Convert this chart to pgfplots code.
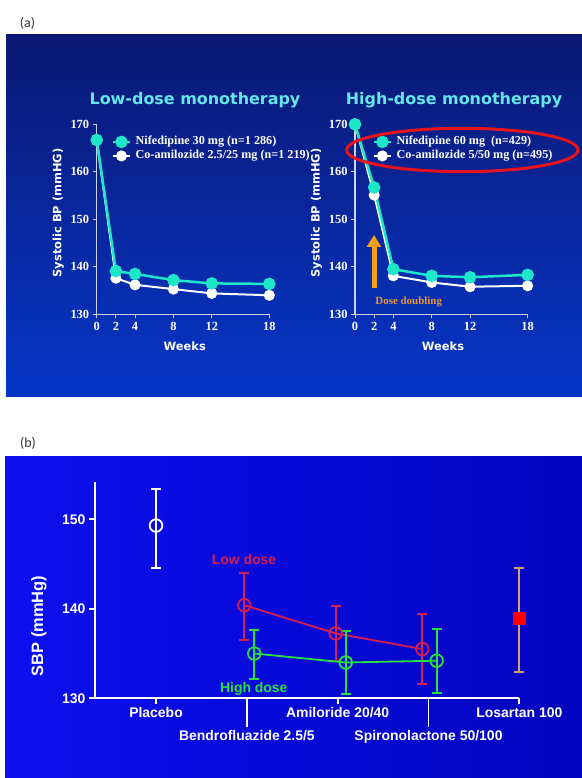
\documentclass[border=0pt]{standalone}
\usepackage{fontspec}
\setmainfont{Liberation Sans}
\newfontfamily\dvs{DejaVu Sans}
\newfontfamily\lser{Liberation Serif}
\newfontfamily\carl{Carlito}
\usepackage{pgfplots}
\usepackage{pgfplotstable}
\pgfplotsset{compat=1.18}
\usetikzlibrary{arrows.meta}

\definecolor{bgAtop}{RGB}{11,24,115}
\definecolor{bgAbot}{RGB}{6,54,200}
\definecolor{bgBl}{RGB}{12,16,240}
\definecolor{bgBr}{RGB}{3,3,190}
\definecolor{bgBmid}{RGB}{10,12,228}
\definecolor{titlecyan}{RGB}{100,230,235}
\definecolor{nif}{RGB}{30,230,200}
\definecolor{axcol}{RGB}{205,210,230}
\definecolor{ellred}{RGB}{230,20,30}
\definecolor{arrorange}{RGB}{245,160,20}
\definecolor{doseorange}{RGB}{232,150,50}
\definecolor{lowred}{RGB}{215,30,80}
\definecolor{highgreen}{RGB}{40,225,60}
\definecolor{tanbar}{RGB}{210,160,110}
\definecolor{labgray}{RGB}{50,50,50}

\pgfplotstableread{
w y
0 166.7
2 139.1
4 138.5
8 137.2
12 136.5
18 136.4
}\nifA
\pgfplotstableread{
w y
0 166.7
2 137.6
4 136.2
8 135.3
12 134.4
18 134.0
}\coA
\pgfplotstableread{
w y
0 170.0
2 156.7
4 139.5
8 138.1
12 137.8
18 138.3
}\nifB
\pgfplotstableread{
w y
0 170.0
2 155.1
4 138.1
8 136.7
12 135.8
18 136.0
}\coB
\pgfplotstableread{
x y ep em
0 149.3 4.05 4.7
}\placebo
\pgfplotstableread{
x y ep em
0.972 140.4 3.6 3.9
1.978 137.25 3.05 3.05
2.932 135.5 3.9 3.9
}\lowB
\pgfplotstableread{
x y ep em
1.082 135.0 2.6 2.85
2.089 134.0 3.5 3.5
3.09 134.2 3.5 3.6
}\highB
\pgfplotstableread{
x y ep em
4 138.9 5.7 6.0
}\losartan

\pgfplotsset{
  panelA/.style={
    scale only axis, width=172.6bp, height=190bp,
    xmin=0, xmax=18, ymin=130, ymax=170,
    axis lines=left, axis line style={-, draw=axcol, line width=1.3bp},
    xtick={0,2,4,8,12,18}, ytick={130,140,...,170},
    tick align=outside, major tick length=4bp,
    tick style={draw=axcol, line width=1bp},
    /pgf/number format/assume math mode=true,
    ticklabel style={font=\lser\bfseries\fontsize{12.5}{14}\selectfont, text=white},
    xlabel={Weeks}, ylabel={Systolic BP (mmHG)},
    label style={font=\dvs\bfseries\fontsize{11.5}{13}\selectfont, text=white},
    xlabel style={at={(axis description cs:0.51,-0.1705)}, anchor=center},
    ylabel style={at={(axis description cs:-0.2225,0.533)}, anchor=center},
    clip=false,
    reverse legend,
    legend cell align=left,
    legend image code/.code={\draw[mark repeat=2,mark phase=2,##1] plot coordinates {(0bp,0bp) (8.5bp,0bp) (17bp,0bp)};},
  },
  legA/.style={
    legend style={at={(axis description cs:#1,0.945)}, anchor=north west, draw=none, fill=none,
      font=\lser\bfseries\fontsize{12.2}{14}\selectfont, text=white, inner sep=0pt,
      nodes={inner sep=1.5bp, text height=8bp, text depth=3bp},
      /tikz/every odd column/.append style={column sep=3bp}},
  },
}

\begin{document}
\begin{tikzpicture}[x=1bp,y=1bp]
\useasboundingbox (0,0) rectangle (582,778);
% panel backgrounds
\shade[top color=bgAtop, bottom color=bgAbot] (6,381) rectangle (582,743);
\shade[left color=bgBl, right color=bgBr] (5,0) rectangle (582,321);
\node[font=\carl\fontsize{14}{16}\selectfont, text=labgray] at (27.5,755) {(a)};
\node[font=\carl\fontsize{14}{16}\selectfont, text=labgray] at (28,335) {(b)};

% titles
\node[font=\dvs\bfseries\fontsize{16}{18}\selectfont, text=titlecyan] at (195,678) {Low-dose monotherapy};
\node[font=\dvs\bfseries\fontsize{16}{18}\selectfont, text=titlecyan] at (454,678) {High-dose monotherapy};

% left panel (a)
\begin{axis}[panelA, legA=0.0857, at={(96.7bp,463.7bp)}, anchor=south west]
\addplot[white, line width=2bp, mark=*, mark size=4.5bp, mark options={fill=white, draw=white}] table[x=w,y=y]{\coA};
\addlegendentry{Co-amilozide 2.5/25 mg (n=1 219)}
\addplot[nif, line width=2.5bp, mark=*, mark size=5bp, mark options={fill=nif, draw=nif}] table[x=w,y=y]{\nifA};
\addlegendentry{Nifedipine 30 mg (n=1 286)}
\end{axis}

% right panel (a)
\begin{axis}[panelA, legA=0.101, at={(355bp,463.7bp)}, anchor=south west]
\addplot[white, line width=2bp, mark=*, mark size=4.5bp, mark options={fill=white, draw=white}] table[x=w,y=y]{\coB};
\addlegendentry{Co-amilozide 5/50 mg (n=495)}
\addplot[nif, line width=2.5bp, mark=*, mark size=5bp, mark options={fill=nif, draw=nif}] table[x=w,y=y]{\nifB};
\addlegendentry{Nifedipine 60 mg~~(n=429)}
\end{axis}

\draw[ellred, line width=3bp] (462.3,628) ellipse [x radius=115.7, y radius=21.7];
\draw[arrorange, line width=5bp, -{Triangle[width=14bp,length=12bp]}] (374,490) -- (374,543);
\node[font=\lser\bfseries\fontsize{11}{13}\selectfont, text=doseorange] at (408.7,476.3) {Dose doubling};

% panel (b)
\begin{axis}[
  at={(95bp,79.7bp)}, anchor=south west,
  scale only axis, width=424.3bp, height=216.6bp,
  xmin=-0.672, xmax=4, ymin=130, ymax=154.2,
  axis lines=left, axis line style={-, draw=white, line width=1.8bp},
  ytick={130,140,150},
  xtick={0,2,4}, xticklabels={Placebo, Amiloride 20/40, Losartan 100},
  extra x ticks={1,3}, extra x tick labels={Bendrofluazide 2.5/5, Spironolactone 50/100},
  extra x tick style={major tick length=28.4bp},
  tick align=outside, major tick length=6bp,
  tick style={draw=white, line width=1.8bp},
  /pgf/number format/assume math mode=true,
  ticklabel style={font=\bfseries\fontsize{14}{16}\selectfont, text=white},
  ylabel={SBP (mmHg)},
  ylabel style={font=\bfseries\fontsize{16.5}{18}\selectfont, text=white, at={(axis description cs:-0.132,0.334)}, anchor=center},
  clip=false,
]
\addplot[white, line width=1.8bp, mark=o, mark size=6.3bp, mark options={fill=bgBmid, draw=white, line width=1.8bp},
  error bars/.cd, y dir=both, y explicit, error bar style={line width=1.8bp, draw=white},
  error mark options={rotate=90, mark size=5bp, line width=1.8bp, draw=white}]
  table[x=x, y=y, y error plus=ep, y error minus=em]{\placebo};
\addplot[lowred, line width=1.8bp, mark=o, mark size=6.3bp, mark options={fill=bgBmid, draw=lowred, line width=1.8bp},
  error bars/.cd, y dir=both, y explicit, error bar style={line width=1.8bp, draw=lowred},
  error mark options={rotate=90, mark size=5bp, line width=1.8bp, draw=lowred}]
  table[x=x, y=y, y error plus=ep, y error minus=em]{\lowB};
\addplot[highgreen, line width=1.8bp, mark=o, mark size=6.3bp, mark options={fill=bgBmid, draw=highgreen, line width=1.8bp},
  error bars/.cd, y dir=both, y explicit, error bar style={line width=1.8bp, draw=highgreen},
  error mark options={rotate=90, mark size=5bp, line width=1.8bp, draw=highgreen}]
  table[x=x, y=y, y error plus=ep, y error minus=em]{\highB};
\addplot[only marks, mark=square*, mark size=6bp, mark options={fill=red, draw=red},
  error bars/.cd, y dir=both, y explicit, error bar style={line width=2.2bp, draw=tanbar},
  error mark options={rotate=90, mark size=5bp, line width=1.8bp, draw=tanbar}]
  table[x=x, y=y, y error plus=ep, y error minus=em]{\losartan};
\end{axis}
\node[font=\bfseries\fontsize{14}{16}\selectfont, text=lowred] at (244,218) {Low dose};
\node[font=\bfseries\fontsize{14}{16}\selectfont, text=highgreen] at (253.8,89) {High dose};
\end{tikzpicture}
\end{document}
